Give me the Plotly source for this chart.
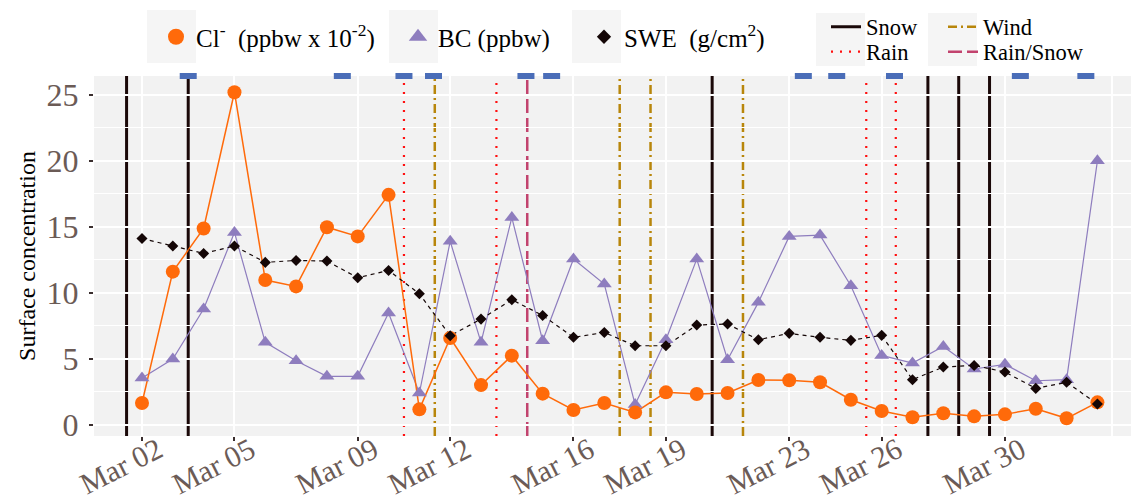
import plotly.graph_objects as go
import pandas as pd

# ---------------- data ----------------
dates = pd.date_range("2019-03-02", "2019-04-02", freq="D")

cl_vals = [1.64, 11.6, 14.87, 25.2, 10.96, 10.48, 14.97, 14.27, 17.42, 1.16,
           6.57, 3.0, 5.23, 2.35, 1.11, 1.64, 0.93, 2.45, 2.32, 2.4,
           3.38, 3.36, 3.21, 1.89, 1.03, 0.56, 0.86, 0.63, 0.78, 1.21,
           0.48, 1.69]
bc_vals = [3.54, 4.98, 8.77, 14.57, 6.24, 4.85, 3.66, 3.66, 8.46, 2.4,
           13.9, 6.24, 15.7, 6.36, 12.55, 10.66, 1.52, 6.44, 12.55, 4.92,
           9.27, 14.27, 14.37, 10.53, 5.25, 4.67, 5.93, 4.22, 4.57, 3.33,
           3.41, 20.0]
swe_vals = [14.11, 13.54, 12.98, 13.54, 12.3, 12.45, 12.4, 11.14, 11.69, 9.92,
            6.74, 8.0, 9.47, 8.28, 6.62, 6.99, 5.98, 5.98, 7.55, 7.63,
            6.44, 6.92, 6.62, 6.39, 6.77, 3.41, 4.37, 4.49, 3.99, 2.75,
            3.21, 1.57]

snow_events = ["2019-03-01 12:00", "2019-03-03 12:00", "2019-03-20 12:00",
               "2019-03-27 12:00", "2019-03-28 12:00", "2019-03-29 12:00"]
rain_events = ["2019-03-10 12:00", "2019-03-13 12:00", "2019-03-25 12:00",
               "2019-03-26 11:00"]
wind_events = ["2019-03-11 12:00", "2019-03-17 12:00", "2019-03-18 12:00",
               "2019-03-21 12:00"]
rainsnow_events = ["2019-03-14 12:00"]
sample_marks = ["2019-03-03 12:00", "2019-03-08 12:00", "2019-03-10 12:00",
                "2019-03-11 11:00", "2019-03-14 11:00", "2019-03-15 07:00",
                "2019-03-23 11:00", "2019-03-24 13:00", "2019-03-26 10:00",
                "2019-03-30 12:00", "2019-04-01 15:00"]

tick_dates = ["2019-03-02", "2019-03-05", "2019-03-09", "2019-03-12",
              "2019-03-16", "2019-03-19", "2019-03-23", "2019-03-26",
              "2019-03-30"]
extra_grid_dates = ["2019-04-02 11:20"]

# ---------------- styles ----------------
FONT = "Liberation Serif"
C_CL = "#FF6A0A"
C_BC = "#8E7DBE"
C_SWE = "#140606"
TICK_C = "#6B5B56"
KEY_BG = "#F5F5F5"

# plot-area geometry in pixels (for paper-coordinate placement of legends)
W, H = 1131, 499
ML, MR, MT, MB = 94, 0, 76, 63
PW, PH = W - ML - MR, H - MT - MB


def px_x(px):
    return (px - ML) / PW


def px_y(py):
    return (H - MB - py) / PH


fig = go.Figure()

# lines
fig.add_trace(go.Scatter(x=dates, y=bc_vals, mode="lines",
                         line=dict(color=C_BC, width=1.2), showlegend=False))
fig.add_trace(go.Scatter(x=dates, y=cl_vals, mode="lines",
                         line=dict(color=C_CL, width=1.5), showlegend=False))
fig.add_trace(go.Scatter(x=dates, y=swe_vals, mode="lines",
                         line=dict(color=C_SWE, width=1.2, dash="4px,4px"),
                         showlegend=False))
# markers
fig.add_trace(go.Scatter(x=dates, y=bc_vals, mode="markers", showlegend=False,
                         marker=dict(color=C_BC, size=13, symbol="triangle-up")))
fig.add_trace(go.Scatter(x=dates, y=cl_vals, mode="markers", showlegend=False,
                         marker=dict(color=C_CL, size=14, symbol="circle")))
fig.add_trace(go.Scatter(x=dates, y=swe_vals, mode="markers", showlegend=False,
                         marker=dict(color=C_SWE, size=8.5, symbol="diamond")))

# legend entries (legend-only keys)
fig.add_trace(go.Scatter(x=[None], y=[None], mode="markers",
                         name="Cl<sup>-</sup>  (ppbw x 10<sup>-2</sup>)",
                         marker=dict(color=C_CL, size=16, symbol="circle"),
                         legend="legend"))
fig.add_trace(go.Scatter(x=[None], y=[None], mode="markers",
                         name="BC (ppbw)",
                         marker=dict(color=C_BC, size=16, symbol="triangle-up"),
                         legend="legend2"))
fig.add_trace(go.Scatter(x=[None], y=[None], mode="markers",
                         name="SWE  (g/cm<sup>2</sup>)",
                         marker=dict(color=C_SWE, size=11, symbol="diamond"),
                         legend="legend3"))


# event lines
def add_events(events, name, color, width, dash, legend):
    for i, d in enumerate(events):
        fig.add_shape(type="line", xref="x", yref="paper", x0=d, x1=d, y0=0, y1=1,
                      line=dict(color=color, width=width, dash=dash),
                      layer="between", showlegend=(i == 0), name=name,
                      legend=legend)


# extra white grid line seen at the right edge
for d in extra_grid_dates:
    fig.add_shape(type="line", xref="x", yref="paper", x0=d, x1=d, y0=0, y1=1,
                  line=dict(color="white", width=2), layer="below")

add_events(snow_events, "Snow", "#1A0808", 3, "solid", "legend4")
add_events(rain_events, "Rain", "#FF1010", 2.2, "2px,7px", "legend5")
add_events(wind_events, "Wind", "#B8860B", 2.5, "9px,4px,2px,4px", "legend6")
add_events(rainsnow_events, "Rain/Snow", "#C2436E", 2.5, "14px,5px", "legend7")

# sample markers along top edge
for d in sample_marks:
    fig.add_shape(type="rect", xref="x", yref="paper",
                  xsizemode="pixel", xanchor=d, x0=-8.5, x1=8.5,
                  ysizemode="pixel", yanchor=1, y0=-3, y1=3,
                  fillcolor="#4A6DB8", line=dict(width=0), layer="above")

# legend key backgrounds
for (x0, x1, y0, y1) in [(147, 196, 10, 63), (389, 438, 10, 63), (572, 621, 10, 63),
                         (816, 865, 13, 66), (928, 977, 13, 66)]:
    fig.add_shape(type="rect", xref="paper", yref="paper",
                  x0=px_x(x0), x1=px_x(x1), y0=px_y(y1), y1=px_y(y0),
                  fillcolor=KEY_BG, line=dict(width=0), layer="below")

x_left = pd.Timestamp("2019-03-02") - pd.Timedelta(days=1.557)
x_right = pd.Timestamp("2019-03-02") + pd.Timedelta(days=32.09)


def leg(xpx, ypx, size):
    return dict(orientation="v", x=px_x(xpx), y=px_y(ypx), xanchor="left",
                yanchor="middle", font=dict(family=FONT, size=size, color="black"),
                bgcolor="rgba(0,0,0,0)", borderwidth=0)


fig.update_layout(
    width=W, height=H,
    margin=dict(l=ML, r=MR, t=MT, b=MB, pad=0),
    plot_bgcolor="#F2F2F2", paper_bgcolor="white",
    font=dict(family=FONT, color=TICK_C),
    xaxis=dict(type="date", range=[x_left, x_right], tickvals=tick_dates,
               tickformat="%b %d", tickangle=-27,
               tickfont=dict(family=FONT, size=30, color=TICK_C),
               ticks="outside", ticklen=4, tickwidth=2, tickcolor="#3A2E2E",
               ticklabelshift=16, ticklabelstandoff=-20,
               showgrid=True, gridcolor="white", gridwidth=2,
               zeroline=False, showline=False, automargin=False),
    yaxis=dict(range=[-0.86, 26.43], tick0=0, dtick=5,
               tickfont=dict(family=FONT, size=32, color=TICK_C),
               ticks="outside", ticklen=4, tickwidth=2, tickcolor="#3A2E2E",
               ticklabelstandoff=4,
               showgrid=True, gridcolor="white", gridwidth=2,
               minor=dict(dtick=2.5, tick0=0, showgrid=True, gridcolor="white",
                          gridwidth=1, ticks=""),
               zeroline=False, showline=False, automargin=False,
               title=dict(text="Surface concentration",
                          font=dict(family=FONT, size=24, color="black"),
                          standoff=4)),
    legend=leg(156, 37, 25),
    legend2=leg(398, 37, 25),
    legend3=leg(584, 37, 25),
    legend4=leg(826, 27, 22.5),
    legend5=leg(826, 52, 22.5),
    legend6=leg(943, 27, 22.5),
    legend7=leg(943, 52, 22.5),
)

fig.write_html("out.html")
